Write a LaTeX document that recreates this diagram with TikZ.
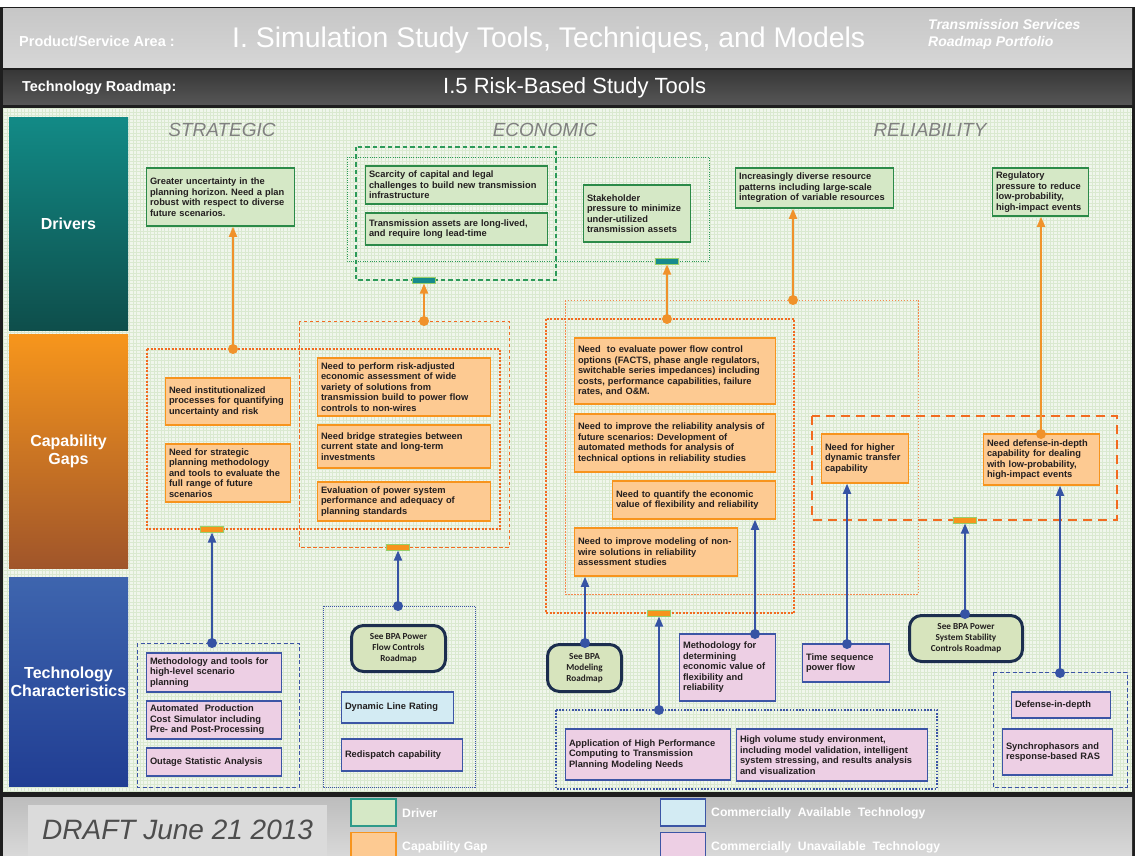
\documentclass[tikz,border=0pt]{standalone}
\usepackage{fontspec}
\setmainfont{Liberation Sans}
\newfontfamily\bpafont{Carlito}
\usetikzlibrary{arrows.meta}
\frenchspacing

\definecolor{drvfill}{HTML}{D5E8C6}
\definecolor{drvline}{HTML}{2B8A48}
\definecolor{gapfill}{HTML}{FDCA92}
\definecolor{gapline}{HTML}{F7941D}
\definecolor{techline}{HTML}{3C55A5}
\definecolor{pinkfill}{HTML}{EDCFE4}
\definecolor{bluefill}{HTML}{D3EBF3}
\definecolor{bpafill}{HTML}{D7E4BD}
\definecolor{bpaline}{HTML}{1C2E4E}
\definecolor{grpor}{HTML}{F26B21}
\definecolor{grpgr}{HTML}{2E9A5A}
\definecolor{linkorc}{HTML}{F0922B}
\definecolor{linkblc}{HTML}{3653A4}
\definecolor{txt}{HTML}{231F20}
\definecolor{bgmain}{HTML}{F0F6EC}
\definecolor{bggrid}{HTML}{DAE9D0}
\definecolor{barteal}{HTML}{168A8C}
\definecolor{barrim}{HTML}{97CF6A}
\definecolor{headgray}{HTML}{808080}
\definecolor{framec}{HTML}{1E1E1E}
\definecolor{legteal}{HTML}{2E9A8A}
\definecolor{draftgray}{HTML}{4D4D4D}
\definecolor{drvtop}{HTML}{128A86}
\definecolor{drvbot}{HTML}{0E4E4B}
\definecolor{gaptop}{HTML}{F7961C}
\definecolor{gapbot}{HTML}{A0552A}
\definecolor{techtop}{HTML}{3E65AE}
\definecolor{techbot}{HTML}{213E93}

% a box given by its corners: name, x1, y1, x2, y2, style, text
\newcommand{\roadbox}[7]{%
  \pgfmathsetmacro{\rbW}{#4-#2}%
  \pgfmathsetmacro{\rbH}{#5-#3}%
  \pgfmathsetmacro{\rbT}{#4-#2-6}%
  \node[#6, minimum width=\rbW pt, minimum height=\rbH pt, text width=\rbT pt]
    (#1) at ({(#2+#4)/2},{(#3+#5)/2}) {#7};}

\tikzset{
  box/.style={draw, line width=1.5pt, inner xsep=3.5pt, inner ysep=1pt, align=left,
    text=txt, font=\fontsize{9.3}{10.5}\selectfont\bfseries},
  drv/.style={box, fill=drvfill, draw=drvline},
  gap/.style={box, fill=gapfill, draw=gapline},
  tun/.style={box, fill=pinkfill, draw=techline},
  tav/.style={box, fill=bluefill, draw=techline},
  bpa/.style={draw=bpaline, fill=bpafill, line width=3pt, rounded corners=12pt,
    align=center, text=txt, font=\bpafont\bfseries\fontsize{9.2}{11}\selectfont, inner sep=2pt},
  rowlab/.style={minimum width=119pt, align=center, text=white,
    font=\fontsize{16}{18}\selectfont\bfseries, inner sep=0pt},
  colhead/.style={text=headgray, font=\fontsize{19}{21}\selectfont\itshape, inner sep=0pt},
  hdtext/.style={anchor=west, inner sep=0pt, text=white},
  bartl/.style={draw=barrim, fill=barteal, line width=1pt, minimum width=23pt,
    minimum height=6pt, inner sep=0pt},
  baror/.style={draw=barrim, fill=gapline, line width=1pt, minimum width=23pt,
    minimum height=6pt, inner sep=0pt},
  dotor/.style={circle, fill=linkorc, minimum size=10pt, inner sep=0pt},
  dotbl/.style={circle, fill=linkblc, minimum size=10pt, inner sep=0pt},
  linkor/.style={draw=linkorc, line width=1.8pt, -{Triangle[length=10pt,width=8pt]}},
  linkbl/.style={draw=linkblc, line width=1.8pt, -{Triangle[length=10pt,width=8pt]}},
  frOrDots/.style={draw=grpor, line width=2.3pt, dash pattern=on 2pt off 1.5pt},
  frOrDash/.style={draw=grpor, line width=0.9pt, dash pattern=on 3.5pt off 2.5pt},
  frOrFine/.style={draw=grpor!80, line width=0.9pt, dash pattern=on 1.5pt off 1.5pt},
  frOrBig/.style={draw=grpor, line width=2.6pt, dash pattern=on 9pt off 6pt},
  frGrDash/.style={draw=grpgr, line width=1.2pt, dash pattern=on 4.5pt off 3pt},
  frGrFine/.style={draw=grpgr, line width=0.8pt, dash pattern=on 1pt off 1.3pt},
  frBlDash/.style={draw=techline, line width=1pt, dash pattern=on 4pt off 2.5pt},
  frBlFine/.style={draw=techline, line width=1pt, dash pattern=on 1pt off 1pt},
  frBlDots/.style={draw=techline, line width=2pt, dash pattern=on 1.6pt off 1.6pt},
  legsq/.style={line width=1.5pt, minimum width=45pt, minimum height=27pt, inner sep=0pt},
  legtext/.style={anchor=west, inner sep=0pt, text=white, font=\fontsize{12.2}{14}\selectfont\bfseries},
}

\begin{document}
\begin{tikzpicture}[x=1pt, y=-1pt]
\useasboundingbox (0,0) rectangle (1135,856);

% ---------- frame, header bands, canvas, footer ----------
\fill[white] (0,0) rectangle (1135,856);
\fill[framec] (0,7) rectangle (1135,856);
\shade[top color=black!22, bottom color=black!16] (3,9) rectangle (1132,68);
\shade[top color=black!78, bottom color=black!66] (3,71) rectangle (1132,105);
\fill[bgmain] (3,108) rectangle (1132,792);
\draw[bggrid, line width=0.5pt, step=3.5pt] (3,108) grid (1132,792);
\shade[top color=black!26, bottom color=black!15] (3,797) rectangle (1132,856);

% ---------- header texts ----------
\node[hdtext, font=\fontsize{14.5}{16}\selectfont\bfseries] (hArea) at (19,41) {Product/Service Area :};
\node[hdtext, font=\fontsize{28.4}{30}\selectfont] (hTitle) at (232,40) {I. Simulation Study Tools, Techniques, and Models};
\node[hdtext, align=left, font=\fontsize{14}{17}\selectfont\bfseries\itshape] (hPort) at (928,34) {Transmission Services\\Roadmap Portfolio};
\node[hdtext, font=\fontsize{14.4}{16}\selectfont\bfseries] (hRoad) at (22,88) {Technology Roadmap:};
\node[hdtext, font=\fontsize{22}{24}\selectfont] (hSub) at (443,88) {I.5 Risk-Based Study Tools};

% ---------- row labels ----------
\node[rowlab, minimum height=212pt, top color=drvtop, bottom color=drvbot] (rDrv) at (68.5,224) {Drivers};
\node[rowlab, minimum height=234pt, top color=gaptop, bottom color=gapbot] (rGap) at (68.5,451) {Capability\\Gaps};
\node[rowlab, minimum height=209pt, top color=techtop, bottom color=techbot] (rTech) at (68.5,681.5) {Technology\\Characteristics};

% ---------- column headings ----------
\node[colhead] (cStr) at (222,130) {STRATEGIC};
\node[colhead] (cEco) at (545,130) {ECONOMIC};
\node[colhead] (cRel) at (930,130) {RELIABILITY};

% ---------- grouping frames ----------
\draw[frGrDash] (356,147) rectangle (556,280);
\draw[frGrFine] (347,157) rectangle (709,261);
\draw[frOrDash] (299,321) rectangle (509,547);
\draw[frOrDots] (147,349) rectangle (500,529);
\draw[frOrFine] (565,300) rectangle (918,594);
\draw[frOrDots] (546,319) rectangle (794,613);
\draw[frOrBig] (812,416) rectangle (1117,520);
\draw[frBlDash] (137,643) rectangle (299,787);
\draw[frBlFine] (323,606) rectangle (475,787);
\draw[frBlDots] (556,710) rectangle (937,789);
\draw[frBlDash] (993,672) rectangle (1127,787);

% ---------- drivers ----------
\roadbox{dA}{147}{168}{294}{226}{drv}{Greater uncertainty in the\\planning horizon. Need a plan\\robust with respect to diverse\\future scenarios.}
\roadbox{dB}{366}{166}{547}{204}{drv}{Scarcity of capital and legal\\challenges to build new transmission\\infrastructure}
\roadbox{dC}{366}{213}{547}{245}{drv}{Transmission assets are long-lived,\\and require long lead-time}
\roadbox{dD}{584}{185}{690}{242}{drv}{Stakeholder\\pressure to minimize\\under-utilized\\transmission assets}
\roadbox{dE}{736}{168}{893}{208}{drv}{Increasingly diverse resource\\patterns including large-scale\\integration of variable resources}
\roadbox{dF}{993}{168}{1088}{216}{drv}{Regulatory\\pressure to reduce\\low-probability,\\high-impact events}

% ---------- capability gaps ----------
\roadbox{gA}{166}{378}{290}{425}{gap}{Need institutionalized\\processes for quantifying\\uncertainty and risk}
\roadbox{gB}{166}{444}{290}{502}{gap}{Need for strategic\\planning methodology\\and tools to evaluate the\\full range of future\\scenarios}
\roadbox{gC}{318}{358}{490}{416}{gap}{Need to perform risk-adjusted\\economic assessment of wide\\variety of solutions from\\transmission build to power flow\\controls to non-wires}
\roadbox{gD}{318}{425}{490}{468}{gap}{Need bridge strategies between\\current state and long-term\\investments}
\roadbox{gE}{318}{482}{490}{521}{gap}{Evaluation of power system\\performance and adequacy of\\planning standards}
\roadbox{gF}{575}{338}{775}{404}{gap}{Need\ \ to evaluate power flow control\\options (FACTS, phase angle regulators,\\switchable series impedances) including\\costs, performance capabilities, failure\\rates, and O\&M.}
\roadbox{gG}{575}{414}{775}{472}{gap}{Need to improve the reliability analysis of\\future scenarios: Development of\\automated methods for analysis of\\technical options in reliability studies}
\roadbox{gH}{613}{481}{775}{519}{gap}{Need to quantify the economic\\value of flexibility and reliability}
\roadbox{gI}{575}{528}{737}{576}{gap}{Need to improve modeling of non-\\wire solutions in reliability\\assessment studies}
\roadbox{gJ}{822}{434}{908}{483}{gap}{Need for higher\\dynamic transfer\\capability}
\roadbox{gK}{984}{434}{1099}{485}{gap}{Need defense-in-depth\\capability for dealing\\with low-probability,\\high-impact events}

% ---------- technology characteristics ----------
\roadbox{tA}{147}{653}{281}{692}{tun}{Methodology and tools for\\high-level scenario\\planning}
\roadbox{tB}{147}{701}{281}{739}{tun}{Automated\ \ Production\\Cost Simulator including\\Pre- and Post-Processing}
\roadbox{tC}{147}{748}{281}{776}{tun}{Outage Statistic Analysis}
\roadbox{tD}{342}{692}{453}{723}{tav}{Dynamic Line Rating}
\roadbox{tE}{342}{739}{462}{771}{tun}{Redispatch capability}
\roadbox{tF}{680}{634}{775}{701}{tun}{Methodology for\\determining\\economic value of\\flexibility and\\reliability}
\roadbox{tG}{803}{644}{889}{682}{tun}{Time sequence\\power flow}
\roadbox{tH}{566}{729}{730}{780}{tun}{Application of High Performance\\Computing to Transmission\\Planning Modeling Needs}
\roadbox{tI}{737}{729}{927}{781}{tun}{High volume study environment,\\including model validation, intelligent\\system stressing, and results analysis\\and visualization}
\roadbox{tJ}{1012}{692}{1110}{718}{tun}{Defense-in-depth}
\roadbox{tK}{1003}{729}{1112}{775}{tun}{Synchrophasors and\\response-based RAS}

% ---------- roadmap references ----------
\node[bpa, minimum width=94pt, minimum height=46pt] (bFlow) at (398.5,648.5) {See BPA Power\\Flow Controls\\Roadmap};
\node[bpa, minimum width=74pt, minimum height=47pt] (bModel) at (584.5,668) {See BPA\\Modeling\\Roadmap};
\node[bpa, minimum width=113pt, minimum height=46pt] (bStab) at (966,638.5) {See BPA Power\\System Stability\\Controls Roadmap};

% ---------- group connector bars ----------
\node[bartl] (barD1) at (424,280) {};
\node[bartl] (barD2) at (667,261) {};
\node[baror] (barS1) at (212,529) {};
\node[baror] (barS2) at (398,547) {};
\node[baror] (barE) at (659,613) {};
\node[baror] (barR) at (965,520) {};

% ---------- connector start dots ----------
\node[dotor] (oA) at (233,349) {};
\node[dotor] (oB) at (424,321) {};
\node[dotor] (oC) at (667,319) {};
\node[dotor] (oD) at (793,300) {};
\node[dotor] (oE) at (1041,434) {};
\node[dotbl] (kA) at (212,643) {};
\node[dotbl] (kB) at (398,606) {};
\node[dotbl] (kC) at (585,643) {};
\node[dotbl] (kD) at (659,710) {};
\node[dotbl] (kE) at (755,634) {};
\node[dotbl] (kF) at (847,644) {};
\node[dotbl] (kG) at (965,614) {};
\node[dotbl] (kH) at (1060,673) {};

% ---------- connectors: gaps to drivers ----------
\draw[linkor] (oA.center) -- (oA |- dA.south);
\draw[linkor] (oB.center) -- (barD1.south);
\draw[linkor] (oC.center) -- (barD2.south);
\draw[linkor] (oD.center) -- (oD |- dE.south);
\draw[linkor] (oE.center) -- (oE |- dF.south);

% ---------- connectors: technologies to gaps ----------
\draw[linkbl] (kA.center) -- (barS1.south);
\draw[linkbl] (kB.center) -- (barS2.south);
\draw[linkbl] (kC.center) -- (kC |- gI.south);
\draw[linkbl] (kD.center) -- (barE.south);
\draw[linkbl] (kE.center) -- (kE |- gH.south);
\draw[linkbl] (kF.center) -- (kF |- gJ.south);
\draw[linkbl] (kG.center) -- (barR.south);
\draw[linkbl] (kH.center) -- (kH |- gK.south);

% ---------- footer ----------
\fill[black!14] (28,805) rectangle (327,856);
\node[hdtext, text=draftgray, font=\fontsize{28}{30}\selectfont\itshape] (draft) at (42,830) {DRAFT June 21 2013};
\node[legsq, draw=legteal, fill=drvfill] (lgDrv) at (373.5,812.5) {};
\node[legsq, draw=gapline, fill=gapfill] (lgGap) at (373.5,846) {};
\node[legsq, draw=techline, fill=bluefill] (lgAv) at (683,812.5) {};
\node[legsq, draw=techline, fill=pinkfill] (lgUn) at (683,846) {};
\node[legtext] (lgDrvT) at (402,813) {Driver};
\node[legtext] (lgGapT) at (402,847) {Capability Gap};
\node[legtext] (lgAvT) at (711,813) {Commercially\ \ Available\ \ Technology};
\node[legtext] (lgUnT) at (711,847) {Commercially\ \ Unavailable\ \ Technology};
\end{tikzpicture}
\end{document}
